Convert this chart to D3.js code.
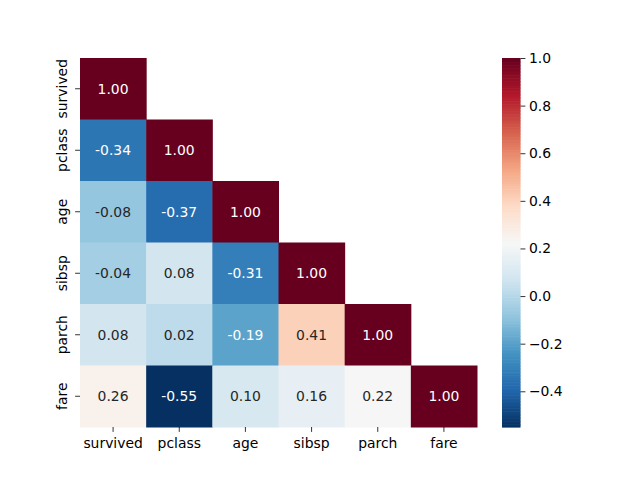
<!DOCTYPE html>
<html><head><meta charset="utf-8">
<script src="https://cdn.jsdelivr.net/npm/d3@7"></script>
<style>body{margin:0;background:#fff}svg{display:block}text{font-family:"DejaVu Sans",sans-serif}</style>
</head><body><svg id="c" width="640" height="480"></svg>
<script>
const labels = ["survived","pclass","age","sibsp","parch","fare"];
const rows = [
  [1.00],
  [-0.34, 1.00],
  [-0.08, -0.37, 1.00],
  [-0.04, 0.08, -0.31, 1.00],
  [0.08, 0.02, -0.19, 0.41, 1.00],
  [0.26, -0.55, 0.10, 0.16, 0.22, 1.00]
];
const cbTicks = [-0.4, -0.2, 0.0, 0.2, 0.4, 0.6, 0.8, 1.0];
const rdbuR = ["#053061","#2166ac","#4393c3","#92c5de","#d1e5f0","#f7f7f7","#fddbc7","#f4a582","#d6604d","#b2182b","#67001f"];

const cells = [];
rows.forEach((r,i)=>r.forEach((v,j)=>cells.push({i,j,v})));
const vmin = d3.min(cells,d=>d.v), vmax = d3.max(cells,d=>d.v);

const svg = d3.select("#c");
const L=80,R=477,T=58,B=427;
const x = d3.scaleBand().domain(labels).range([L,R]);
const y = d3.scaleBand().domain(labels).range([T,B]);
const norm = d3.scaleLinear().domain([vmin,vmax]).range([0,1]).clamp(true);
const cmapS = d3.scaleLinear().domain(d3.range(11).map(k=>k/10)).range(rdbuR).interpolate(d3.interpolateRgb);
const color = v=>cmapS(norm(v));

function lum(c){
  const rgb=d3.rgb(c);
  const f=u=>{u/=255;return u<=0.03928?u/12.92:Math.pow((u+0.055)/1.055,2.4);};
  return 0.2126*f(rgb.r)+0.7152*f(rgb.g)+0.0722*f(rgb.b);
}

const g = svg.append("g");
g.selectAll("rect").data(cells).join("rect")
  .attr("x",d=>x(labels[d.j])).attr("y",d=>y(labels[d.i]))
  .attr("width",x.bandwidth()+0.5).attr("height",y.bandwidth()+0.5)
  .attr("fill",d=>color(d.v));
g.selectAll("text").data(cells).join("text")
  .attr("x",d=>x(labels[d.j])+x.bandwidth()/2)
  .attr("y",d=>y(labels[d.i])+y.bandwidth()/2)
  .attr("text-anchor","middle").attr("dominant-baseline","central")
  .attr("font-size","13.9px")
  .attr("fill",d=>lum(color(d.v))>0.408?"#262626":"#ffffff")
  .text(d=>d.v.toFixed(2));

// x axis
const xa = svg.append("g").attr("transform",`translate(0,${B})`)
  .call(d3.axisBottom(x).tickSize(4.9).tickPadding(6.5));
xa.select(".domain").remove();
xa.selectAll("text").attr("font-size","13.9px").attr("fill","#000").attr("font-family","DejaVu Sans");
xa.selectAll("line").attr("stroke","#000").attr("stroke-width",0.8);

// y axis
const ya = svg.append("g").attr("transform",`translate(${L},0)`)
  .call(d3.axisLeft(y).tickSize(4.9).tickPadding(3.5));
ya.select(".domain").remove();
ya.selectAll("line").attr("stroke","#000").attr("stroke-width",0.8);
ya.selectAll("text").attr("font-size","13.9px").attr("fill","#000").attr("font-family","DejaVu Sans")
  .attr("x",null).attr("dy",null).attr("text-anchor","middle").attr("dominant-baseline",null)
  .attr("transform","translate(-13,0) rotate(-90)");

// colorbar
const cbL=502, cbW=18.5;
const cy = d3.scaleLinear().domain([vmin,vmax]).range([B,T]);
const N=256;
const steps = d3.range(N).map(k=>vmin+(vmax-vmin)*k/N);
svg.append("g").selectAll("rect").data(steps).join("rect")
  .attr("x",cbL).attr("width",cbW)
  .attr("y",d=>cy(d+(vmax-vmin)/N)).attr("height",d=>cy(d)-cy(d+(vmax-vmin)/N)+0.6)
  .attr("fill",d=>color(d+(vmax-vmin)/N/2));
const ca = svg.append("g").attr("transform",`translate(${cbL+cbW},0)`)
  .call(d3.axisRight(cy).tickValues(cbTicks).tickSize(4.9).tickPadding(3.5)
    .tickFormat(d=>d3.format(".1f")(d).replace("-","\u2212")));
ca.select(".domain").remove();
ca.selectAll("line").attr("stroke","#000").attr("stroke-width",0.8);
ca.selectAll("text").attr("font-size","13.9px").attr("fill","#000").attr("font-family","DejaVu Sans");
</script></body></html>
